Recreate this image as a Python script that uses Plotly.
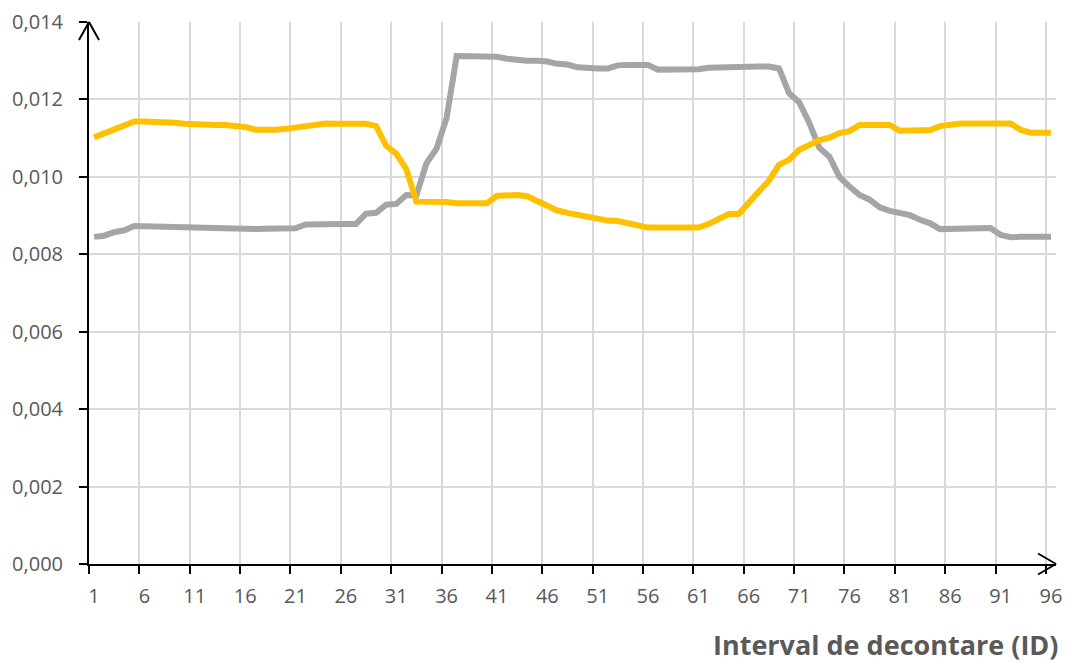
import plotly.graph_objects as go

# Data
intervals = list(range(1, 97))
tick_labels = [str(v) for v in range(1, 97, 5)]

gray_values = [
    0.00845, 0.00848, 0.00857, 0.00862, 0.00873,
    0.00873, 0.00873, 0.00872, 0.00871, 0.00870,
    0.00869, 0.00868, 0.00866, 0.00865, 0.00865,
    0.00865, 0.00865, 0.00866, 0.00866, 0.00867,
    0.00867, 0.00877, 0.00878, 0.00878, 0.00878,
    0.00878, 0.00878, 0.00905, 0.00907, 0.00928,
    0.00930, 0.00953, 0.00952, 0.01035, 0.01073,
    0.01152, 0.01312, 0.01312, 0.01312, 0.01312,
    0.01310, 0.01305, 0.01302, 0.01300, 0.01300,
    0.01298, 0.01292, 0.01290, 0.01283, 0.01280,
    0.01280, 0.01280, 0.01288, 0.01289, 0.01289,
    0.01289, 0.01277, 0.01277, 0.01277, 0.01277,
    0.01278, 0.01282, 0.01283, 0.01285, 0.01285,
    0.01285, 0.01285, 0.01285, 0.01280, 0.01216,
    0.01193, 0.01140, 0.01075, 0.01052, 0.01000,
    0.00975, 0.00953, 0.00941, 0.00921, 0.00912,
    0.00905, 0.00901, 0.00889, 0.00880, 0.00865,
    0.00866, 0.00866, 0.00866, 0.00866, 0.00868,
    0.00850, 0.00844, 0.00845, 0.00845, 0.00845, 0.00845,
]

yellow_values = [
    0.01102, 0.01112, 0.01124, 0.01130, 0.01143,
    0.01143, 0.01143, 0.01142, 0.01140, 0.01137,
    0.01135, 0.01134, 0.01134, 0.01134, 0.01132,
    0.01129, 0.01122, 0.01121, 0.01122, 0.01124,
    0.01128, 0.01132, 0.01136, 0.01138, 0.01137,
    0.01137, 0.01137, 0.01137, 0.01131, 0.01080,
    0.01060, 0.01020, 0.00936, 0.00936, 0.00935,
    0.00935, 0.00932, 0.00931, 0.00931, 0.00932,
    0.00951, 0.00953, 0.00953, 0.00950, 0.00937,
    0.00925, 0.00913, 0.00907, 0.00901, 0.00898,
    0.00891, 0.00887, 0.00886, 0.00880, 0.00874,
    0.00869, 0.00869, 0.00869, 0.00869, 0.00869,
    0.00869, 0.00878, 0.00890, 0.00904, 0.00904,
    0.00936, 0.00962, 0.00990, 0.01031, 0.01044,
    0.01070, 0.01082, 0.01095, 0.01101, 0.01113,
    0.01118, 0.01134, 0.01134, 0.01134, 0.01134,
    0.01119, 0.01120, 0.01120, 0.01121, 0.01131,
    0.01135, 0.01138, 0.01138, 0.01138, 0.01138,
    0.01138, 0.01138, 0.01121, 0.01114, 0.01114, 0.01114,
]

label_positions = list(range(1, 97, 5))
boundary_positions = [v - 0.5 for v in range(1, 97, 5)] + [95.5]

GRAY = "#A5A5A5"
YELLOW = "#FFC000"
TEXT = "#595959"
GRID = "#D9D9D9"
FONT = "Open Sans"

fig = go.Figure()
fig.add_trace(go.Scatter(x=intervals, y=gray_values, mode="lines",
                         line=dict(color=GRAY, width=6), name="Serie 1",
                         hoverinfo="skip", showlegend=False))
fig.add_trace(go.Scatter(x=intervals, y=yellow_values, mode="lines",
                         line=dict(color=YELLOW, width=6), name="Serie 2",
                         hoverinfo="skip", showlegend=False))

fig.update_layout(
    width=1071, height=662,
    margin=dict(l=89, r=15, t=22, b=98, autoexpand=False),
    paper_bgcolor="white", plot_bgcolor="white",
    separators=",.",
    font=dict(family=FONT, size=20, color=TEXT),
    showlegend=False,
)

fig.update_xaxes(
    range=[0.5, 96.5], automargin=False,
    tickmode="array", tickvals=label_positions, ticktext=tick_labels,
    ticks="", showgrid=False, zeroline=False,
    showline=True, linecolor="black", linewidth=2,
    ticklabelstandoff=13,
    tickfont=dict(family=FONT, size=20, color=TEXT),
    minor=dict(tickmode="array", tickvals=boundary_positions,
               ticks="outside", ticklen=8, tickwidth=2, tickcolor="black",
               showgrid=True, gridcolor=GRID, gridwidth=2),
)

fig.update_yaxes(
    range=[0, 0.014], automargin=False,
    tickmode="linear", tick0=0, dtick=0.002,
    tickformat=".3f",
    ticks="outside", ticklen=8, tickwidth=2, tickcolor="black",
    showgrid=True, gridcolor=GRID, gridwidth=2, zeroline=False,
    showline=True, linecolor="black", linewidth=2,
    ticklabelstandoff=12,
    tickfont=dict(family=FONT, size=20, color=TEXT),
)

# Axis arrowheads (open V shapes)
arrow = dict(color="black", width=2)
for dx in (-10, 10):
    fig.add_shape(type="line", xref="paper", yref="paper",
                  xsizemode="pixel", ysizemode="pixel",
                  xanchor=0, yanchor=1,
                  x0=dx, y0=-18, x1=0, y1=0, line=arrow)
for dy in (-10.5, 10.5):
    fig.add_shape(type="line", xref="paper", yref="paper",
                  xsizemode="pixel", ysizemode="pixel",
                  xanchor=1, yanchor=0,
                  x0=-18, y0=dy, x1=0, y1=0, line=arrow)

fig.add_annotation(
    text="<b>Interval de decontare (ID)</b>",
    xref="paper", yref="paper", x=1, y=0,
    xanchor="right", yanchor="bottom", xshift=3, yshift=-100,
    borderpad=0,
    showarrow=False, font=dict(family=FONT, size=27, color=TEXT),
)

fig.write_html(
    "out.html",
    config={"displayModeBar": False},
    post_script="document.body.style.margin='0';document.body.style.overflow='hidden';",
)
